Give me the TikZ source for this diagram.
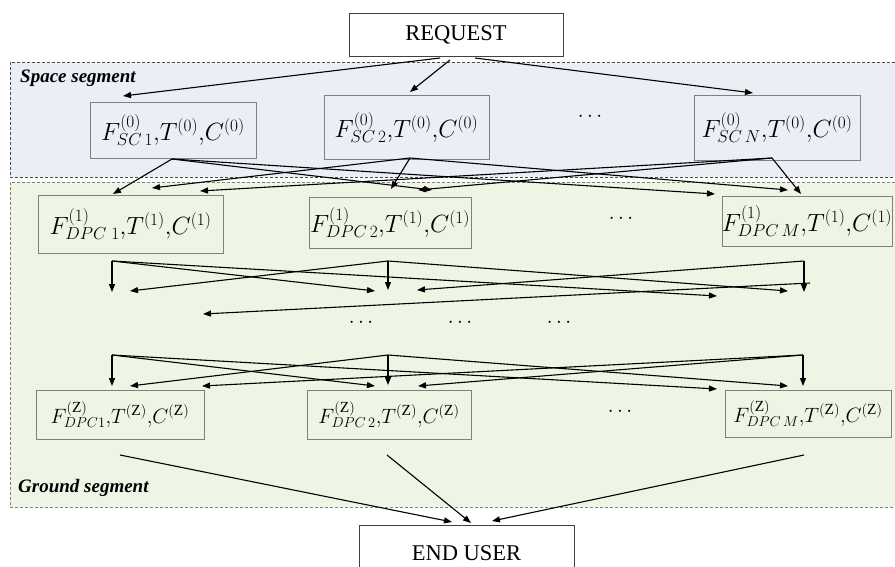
\documentclass[tikz,border=0pt]{standalone}
\usepackage{fontspec}
\setmainfont{Liberation Serif}
\usetikzlibrary{arrows.meta}
\definecolor{spacefill}{HTML}{EAEFF5}
\definecolor{groundfill}{HTML}{EEF5E5}
\definecolor{boxline}{HTML}{808080}
\definecolor{segline}{HTML}{4A4A4A}
\begin{document}
\begin{tikzpicture}[x=1pt,y=-1pt,
  seg/.style={dash pattern=on 3pt off 2pt, line width=0.9pt, draw=segline},
  fbox/.style={draw=boxline, line width=0.8pt, inner sep=0pt},
  endbox/.style={draw=black!75, line width=0.8pt, fill=white, inner sep=0pt, font=\fontsize{22.5}{26}\selectfont},
  lzero/.style={font=\fontsize{24}{28}\selectfont},
  lone/.style={font=\fontsize{23.7}{28}\selectfont},
  lzed/.style={font=\fontsize{22}{26}\selectfont},
  arr/.style={line width=1.1pt, -{Triangle[length=8pt,width=6pt]}},
  segtitle/.style={font=\fontsize{19}{22}\selectfont\bfseries\itshape, anchor=base west, inner sep=0pt},
  dotsnode/.style={font=\fontsize{22}{26}\selectfont, inner sep=0pt}]
\useasboundingbox (0,0) rectangle (895,567);
% segments
\fill[spacefill] (10,62) rectangle (900,177);
\fill[groundfill] (10,182) rectangle (900,507);
\draw[seg] (900,62) -- (10,62) -- (10,177) -- (900,177);
\draw[seg, draw=segline!70] (900,182) -- (10,182) -- (10,507) -- (900,507);
\node[segtitle] (spl) at (20,83) {Space segment};
\node[segtitle] (gdl) at (18,492) {Ground segment};
% end boxes
\node[endbox, minimum width=214pt, minimum height=43pt] (req) at (456,34.5) {REQUEST};
\node[endbox, minimum width=215pt, minimum height=56pt] (usr) at (466.5,553) {END USER};
% level 0
\node[fbox, lzero, minimum width=166pt, minimum height=56pt] (sc1) at (173,130) {$F^{(0)}_{SC\,1}{,}T^{(0)}{,}C^{(0)}$};
\node[fbox, lzero, minimum width=165pt, minimum height=64pt] (sc2) at (406.5,127.5) {$F^{(0)}_{SC\,2}{,}T^{(0)}{,}C^{(0)}$};
\node[fbox, lzero, minimum width=166pt, minimum height=65pt] (scn) at (777,127.5) {$F^{(0)}_{SC\,N}{,}T^{(0)}{,}C^{(0)}$};
\node[dotsnode] (d0) at (590,117) {$\cdots$};
% level 1
\node[fbox, lone, minimum width=185pt, minimum height=58pt] (p1) at (130.5,224) {$F^{(1)}_{DPC\;1}{,}T^{(1)}{,}C^{(1)}$};
\node[fbox, lone, minimum width=162pt, minimum height=51pt] (p2) at (390,222.5) {$F^{(1)}_{DPC\,2}{,}T^{(1)}{,}C^{(1)}$};
\node[fbox, lone, minimum width=164pt, minimum height=50pt] (pm) at (807,221) {$F^{(1)}_{DPC\,M}{,}T^{(1)}{,}C^{(1)}$};
\node[dotsnode] (d1) at (621,219) {$\cdots$};
% middle dots
\node[dotsnode] (dm1) at (361,323) {$\cdots$};
\node[dotsnode] (dm2) at (460,323) {$\cdots$};
\node[dotsnode] (dm3) at (559,323) {$\cdots$};
% level Z
\node[fbox, lzed, minimum width=168pt, minimum height=49pt] (z1) at (120,414.5) {$F^{(\mathrm{Z})}_{DPC1}{,}T^{(\mathrm{Z})}{,}C^{(\mathrm{Z})}$};
\node[fbox, lzed, minimum width=164pt, minimum height=49pt] (z2) at (389,414.5) {$F^{(\mathrm{Z})}_{DPC\,2}{,}T^{(\mathrm{Z})}{,}C^{(\mathrm{Z})}$};
\node[fbox, lzed, minimum width=166pt, minimum height=47pt] (zm) at (808,413.5) {$F^{(\mathrm{Z})}_{DPC\,M}{,}T^{(\mathrm{Z})}{,}C^{(\mathrm{Z})}$};
\node[dotsnode] (dz) at (620,412) {$\cdots$};
% request -> level 0
\coordinate (rq1) at (440,58);
\coordinate (rq2) at (450,60);
\coordinate (rq3) at (475,58);
\coordinate (t01) at (123,96);
\coordinate (t02) at (410,92);
\coordinate (t03) at (753,93);
\draw[arr] (rq1) -- (t01);
\draw[arr] (rq2) -- (t02);
\draw[arr] (rq3) -- (t03);
% level 0 -> level 1
\coordinate (s1) at (172,159);
\coordinate (s2) at (410,158);
\coordinate (s3) at (772,158);
\coordinate (a11) at (113,194);
\coordinate (a12) at (432,190);
\coordinate (a13) at (715,194);
\coordinate (a21) at (152,188);
\coordinate (a22) at (391,189);
\coordinate (a23) at (788,190);
\coordinate (a31) at (200,191);
\coordinate (a32) at (418,190);
\coordinate (a33) at (801,194);
\foreach \s in {1,2,3}{\foreach \t in {1,2,3}{\draw[arr] (s\s) -- (a\s\t);}}
% level 1 -> next
\coordinate (m1) at (112,261);
\coordinate (m2) at (388,261);
\coordinate (m3) at (804,261);
\coordinate (m3b) at (810,283);
\coordinate (b11) at (112,292);
\coordinate (b12) at (375,291);
\coordinate (b13) at (717,296);
\coordinate (b21) at (130,291);
\coordinate (b22) at (388,290);
\coordinate (b23) at (788,291);
\coordinate (b31) at (203,314);
\coordinate (b32) at (417,290);
\coordinate (b33) at (804,292);
\draw[arr] (m1) -- (b11);
\draw[arr] (m1) -- (b12);
\draw[arr] (m1) -- (b13);
\draw[arr] (m2) -- (b22);
\draw[arr] (m2) -- (b21);
\draw[arr] (m2) -- (b23);
\draw[arr] (m3) -- (b33);
\draw[arr] (m3) -- (b32);
\draw[arr] (m3b) -- (b31);
% -> level Z
\coordinate (n1) at (112,355);
\coordinate (n2) at (388,355);
\coordinate (n3) at (803,355);
\coordinate (c11) at (112,386);
\coordinate (c12) at (375,386);
\coordinate (c13) at (717,389);
\coordinate (c21) at (130,386);
\coordinate (c22) at (388,385);
\coordinate (c23) at (788,386);
\coordinate (c31) at (202,386);
\coordinate (c32) at (418,386);
\coordinate (c33) at (803,386);
\foreach \s in {1,2,3}{\foreach \t in {1,2,3}{\draw[arr] (n\s) -- (c\s\t);}}
% level Z -> end user
\coordinate (e1) at (120,455);
\coordinate (e2) at (387,455);
\coordinate (e3) at (804,455);
\coordinate (u1) at (452,522);
\coordinate (u2) at (471,523);
\coordinate (u3) at (492,521);
\draw[arr] (e1) -- (u1);
\draw[arr] (e2) -- (u2);
\draw[arr] (e3) -- (u3);
\end{tikzpicture}
\end{document}
